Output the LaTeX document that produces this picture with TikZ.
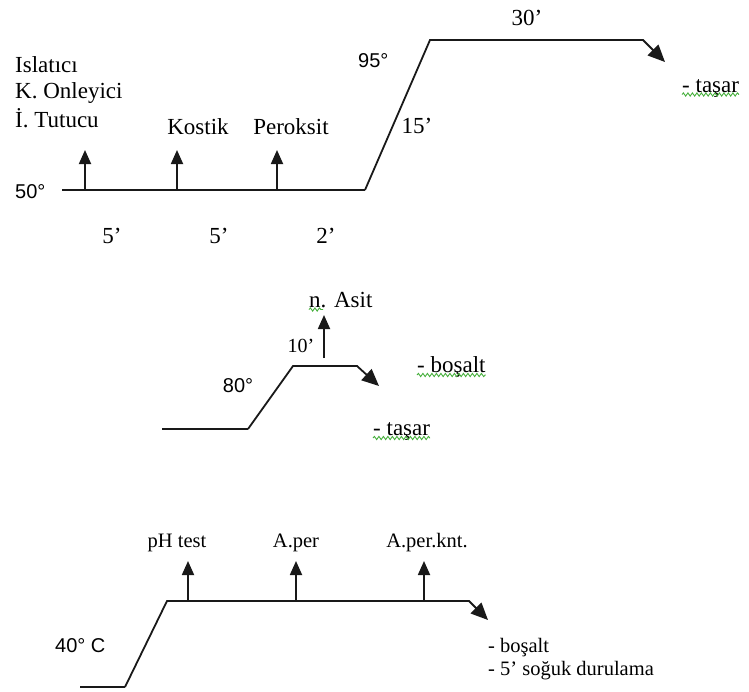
\documentclass[tikz,border=0pt]{standalone}
\usepackage{fontspec}
\setmainfont{Liberation Serif}
\newfontfamily\sansf{Liberation Sans}
\usetikzlibrary{arrows.meta,decorations.pathmorphing}
\definecolor{spell}{RGB}{70,175,60}

\begin{document}
\begin{tikzpicture}[x=1pt,y=-1pt,
  curve/.style={line width=1.8pt, line join=miter, draw=black!90},
  flow/.style={curve, -{Triangle[length=17pt,width=15pt]}},
  feed/.style={line width=1.8pt, draw=black!90, -{Triangle[length=14pt,width=12pt]}},
  lbl/.style={inner sep=0pt, font=\fontsize{23}{27}\selectfont},
  tlbl/.style={inner sep=0pt, font=\fontsize{20}{24}\selectfont},
  note/.style={inner sep=0pt, font=\fontsize{20.5}{24}\selectfont},
  temp/.style={inner sep=0pt, font=\sansf\fontsize{20}{24}\selectfont},
  wavy/.style={draw=spell, line width=0.9pt, decorate,
    decoration={snake, segment length=4.5pt, amplitude=1.6pt}}
]
\useasboundingbox (0,0) rectangle (749,691);

% ---------- 50° -> 95° stage ----------
\coordinate (a0) at (62,190);
\coordinate (a1) at (365,190);
\coordinate (a2) at (430,40);
\coordinate (a3) at (643,40);
\coordinate (a4) at (665,62);
\draw[curve] (a0) -- (a1);
\draw[flow] (a1) -- (a2) -- (a3) -- (a4);

\coordinate (f1b) at (85,190);  \coordinate (f1t) at (85,150);
\coordinate (f2b) at (177,190); \coordinate (f2t) at (177,150);
\coordinate (f3b) at (277,190); \coordinate (f3t) at (277,150);
\draw[feed] (f1b) -- (f1t);
\draw[feed] (f2b) -- (f2t);
\draw[feed] (f3b) -- (f3t);

\node[lbl, anchor=base west] (ag1) at (15,72) {Islatıcı};
\node[lbl, anchor=base west] (ag2) at (15,98) {K. Onleyici};
\node[lbl, anchor=base west] (ag3) at (15,127) {İ. Tutucu};
\node[lbl, anchor=base] (kostik) at (198,134) {Kostik};
\node[lbl, anchor=base] (perok) at (291,134) {Peroksit};

\node[temp, anchor=base west] (t50) at (15,198) {50°};
\node[temp, anchor=base west] (t95) at (358,67) {95°};

\node[lbl, anchor=base] (d1) at (112,243) {5’};
\node[lbl, anchor=base] (d2) at (219,243) {5’};
\node[lbl, anchor=base] (d3) at (326,243) {2’};
\node[lbl, anchor=base] (d4) at (417,133) {15’};
\node[lbl, anchor=base] (d5) at (527,25) {30’};

\node[lbl, anchor=base west] (tas1) at (682,92) {- taşar};
\draw[wavy] ([yshift=-2.5pt]tas1.base west) -- ([yshift=-2.5pt]tas1.base east);

% ---------- 80° stage ----------
\coordinate (b0) at (162,429);
\coordinate (b1) at (248,429);
\coordinate (b2) at (293,366);
\coordinate (b3) at (357,366);
\coordinate (b4) at (379,386);
\draw[curve] (b0) -- (b1);
\draw[flow] (b1) -- (b2) -- (b3) -- (b4);

\coordinate (g1b) at (324,358); \coordinate (g1t) at (324,315);
\draw[feed] (g1b) -- (g1t);

\node[lbl, anchor=base west] (asit) at (309,307) {n. Asit};
\draw[wavy] ([yshift=-2.5pt]asit.base west) -- ([xshift=14pt,yshift=-2.5pt]asit.base west);
\node[tlbl, anchor=base] (d6) at (301,352) {10’};
\node[temp, anchor=base] (t80) at (238,392) {80°};

\node[lbl, anchor=base west] (bos1) at (417,372) {- boşalt};
\draw[wavy] ([yshift=-3pt]bos1.base west) -- ([yshift=-3pt]bos1.base east);
\node[lbl, anchor=base west] (tas2) at (373,435) {- taşar};
\draw[wavy] ([yshift=-3pt]tas2.base west) -- ([yshift=-3pt]tas2.base east);

% ---------- 40° C stage ----------
\coordinate (c0) at (80,687);
\coordinate (c1) at (125,687);
\coordinate (c2) at (167,601);
\coordinate (c3) at (469,601);
\coordinate (c4) at (488,620);
\draw[curve] (c0) -- (c1);
\draw[flow] (c1) -- (c2) -- (c3) -- (c4);

\coordinate (h1b) at (188,601); \coordinate (h1t) at (188,561);
\coordinate (h2b) at (296,601); \coordinate (h2t) at (296,561);
\coordinate (h3b) at (424,601); \coordinate (h3t) at (424,561);
\draw[feed] (h1b) -- (h1t);
\draw[feed] (h2b) -- (h2t);
\draw[feed] (h3b) -- (h3t);

\node[note, anchor=base] (ph) at (177,547) {pH test};
\node[note, anchor=base] (aper) at (296,547) {A.per};
\node[note, anchor=base] (aperk) at (427,547) {A.per.knt.};

\node[temp, anchor=base west] (t40) at (55,652) {40° C};

\node[note, anchor=base west] (bos2) at (488,652) {- boşalt};
\node[note, anchor=base west] (rinse) at (488,675) {- 5’ soğuk durulama};
\end{tikzpicture}
\end{document}
